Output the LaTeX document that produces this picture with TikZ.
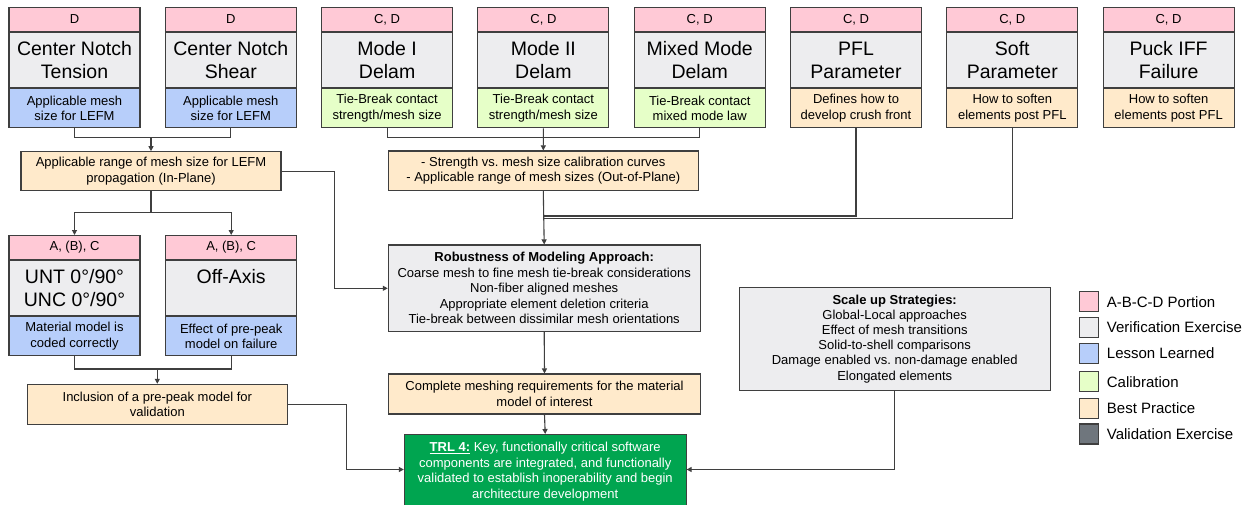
\documentclass[tikz,border=0pt]{standalone}
\usepackage{fontspec}
\setmainfont{Liberation Sans}
\setsansfont{Liberation Sans}
\usepackage{tikz}
\usetikzlibrary{arrows.meta,positioning}

\definecolor{edge}{HTML}{3F3F3F}
\definecolor{tagpink}{HTML}{FFC9D6}
\definecolor{verif}{HTML}{EDEDEF}
\definecolor{lesson}{HTML}{B7CEFA}
\definecolor{calib}{HTML}{E6FFC8}
\definecolor{best}{HTML}{FFEACB}
\definecolor{valid}{HTML}{6F767D}
\definecolor{trlgreen}{HTML}{00A550}

\newcommand\smalltxt{\fontsize{13}{15.5}\selectfont}
\newcommand\bigtxt{\fontsize{19.5}{23}\selectfont}
\newcommand\legtxt{\fontsize{15}{18}\selectfont}

\tikzset{
	box/.style={draw=edge,line width=1.1pt,inner sep=0pt,align=center,font=\smalltxt},
	tagbox/.style={box,fill=tagpink,minimum width=131pt,minimum height=23.7pt,anchor=north},
	bodybox/.style={box,fill=verif,minimum width=131pt,minimum height=55.3pt,anchor=north,font=\bigtxt},
	notebox/.style={box,minimum width=131pt,minimum height=39pt,anchor=north},
	link/.style={draw=edge,line width=1.1pt},
	arr/.style={link,-{Triangle[length=5pt,width=5pt]}}
}

\begin{document}
\begin{tikzpicture}[font=\sffamily,x=1pt,y=-1pt]
				\useasboundingbox (0,0) rectangle (1254,504);
				\clip (0,0) rectangle (1254,504);
				\fill[white] (0,0) rectangle (1254,504);
				\foreach \tg/\ti/\nt/\cl [
				count=\q,
				evaluate=\q as \cx using 74.5+156.3*(\q-1)
				] in {D/{Center Notch\\Tension}/{Applicable mesh\\size for LEFM}/lesson,
					D/{Center Notch\\Shear}/{Applicable mesh\\size for LEFM}/lesson,
					{C, D}/{Mode I\\Delam}/{Tie-Break contact\\strength/mesh size}/calib,
					{C, D}/{Mode II\\Delam}/{Tie-Break contact\\strength/mesh size}/calib,
					{C, D}/{Mixed Mode\\Delam}/{Tie-Break contact\\mixed mode law}/calib,
					{C, D}/{PFL\\Parameter}/{Defines how to\\develop crush front}/best,
					{C, D}/{Soft\\Parameter}/{How to soften\\elements post PFL}/best,
					{C, D}/{Puck IFF\\Failure}/{How to soften\\elements post PFL}/best} {
					\node[tagbox] (tag\q) at (\cx,7) {\tg};
					\node[bodybox] (body\q) at (tag\q.south) {\ti};
					\node[notebox,fill=\cl] (note\q) at (body\q.south) {\nt};
				}
				\node[tagbox] (untTag) at (74.5,235) {A, (B), C};
				\node[bodybox] (untBody) at (untTag.south) {UNT 0°/90°\\UNC 0°/90°};
				\node[notebox,fill=lesson] (untNote) at (untBody.south) {Material model is\\coded correctly};
				\node[tagbox] (offTag) at (231.2,235) {A, (B), C};
				\node[bodybox] (offBody) at (offTag.south) {Off-Axis\\~};
				\node[notebox,fill=lesson] (offNote) at (offBody.south) {Effect of pre-peak\\model on failure};

				\node[box,fill=best,minimum width=260pt,minimum height=39pt] (lefm) at (151,171.2) {Applicable range of mesh size for LEFM\\propagation (In-Plane)};
				\node[box,fill=best,minimum width=310pt,minimum height=39.7pt] (strength) at (543.3,170.8) {- Strength vs.\ mesh size calibration curves\\- Applicable range of mesh sizes (Out-of-Plane)};
				\node[box,fill=verif,minimum width=311.7pt,minimum height=86.7pt] (robust) at (544.2,288.3) {\textbf{Robustness of Modeling Approach:}\\Coarse mesh to fine mesh tie-break considerations\\Non-fiber aligned meshes\\Appropriate element deletion criteria\\Tie-break between dissimilar mesh orientations};
				\node[box,fill=best,minimum width=312pt,minimum height=40pt] (complete) at (544.5,394) {Complete meshing requirements for the material\\model of interest};
				\node[box,fill=best,minimum width=260pt,minimum height=39.7pt] (inclusion) at (157.3,404.2) {Inclusion of a pre-peak model for\\validation};
				\node[box,fill=trlgreen,text=white,minimum width=281.7pt,minimum height=85pt,anchor=north,text depth=14pt] (trl) at (545.2,434) {\textbf{\underline{TRL 4:}} Key, functionally critical software\\components are integrated, and functionally\\validated to establish inoperability and begin\\architecture development};
				\node[box,fill=verif,minimum width=310.7pt,minimum height=102.7pt,font=\fontsize{13}{15.2}\selectfont] (scale) at (894.7,338.7) {\textbf{Scale up Strategies:}\\Global-Local approaches\\Effect of mesh transitions\\Solid-to-shell comparisons\\Damage enabled vs.\ non-damage enabled\\Elongated elements};

				\foreach \cl/\lb/\ly [count=\q] in {tagpink/A-B-C-D Portion/301.7,verif/Verification Exercise/327.3,lesson/Lesson Learned/353.3,calib/Calibration/381.7,best/Best Practice/408.3,valid/Validation Exercise/434} {
					\node[draw=edge,line width=1.1pt,fill=\cl,minimum width=19pt,minimum height=20pt,inner sep=0pt] (key\q) at (1088.8,\ly) {};
					\node[anchor=west,inner sep=0pt,font=\legtxt] (keytext\q) at (1106.7,\ly) {\lb};
				}

				\coordinate (cnJoin) at (151,137.3);
				\draw[link] (note1.south) |- (cnJoin) -| (note2.south);
				\draw[arr] (cnJoin) -- (lefm.north);
				\coordinate (dlJoin) at (543.3,137.3);
				\draw[link] (note3.south) |- (dlJoin) -| (note5.south);
				\draw[arr] (note4.south) -- (strength.north);
				\coordinate (pflJoin) at (543.3,216);
				\coordinate (softJoin) at (543.3,218.7);
				\draw[link] (note6.south) |- (pflJoin);
				\draw[link] (note7.south) |- (softJoin);
				\draw[arr] (strength.south) -- (robust.north);
				\draw[arr] (lefm.east) -- ++(53.3,0) |- (robust.west);
				\coordinate (lefmJoin) at (151,212.3);
				\draw[link] (lefm.south) -- (lefmJoin);
				\draw[arr] (lefmJoin) -| (untTag.north);
				\draw[arr] (lefmJoin) -| (offTag.north);
				\coordinate (incJoin) at (157.3,369);
				\draw[link] (untNote.south) |- (incJoin) -| (offNote.south);
				\draw[arr] (incJoin) -- (inclusion.north);
				\draw[arr] (inclusion.east) -- ++(58.7,0) |- (trl.west |- 0,469.5);
				\draw[arr] (robust.south) -- (complete.north);
				\draw[arr] (complete.south) -- (trl.north);
				\draw[arr] (scale.south) |- (trl.east |- 0,469.5);
			\end{tikzpicture}
\end{document}
